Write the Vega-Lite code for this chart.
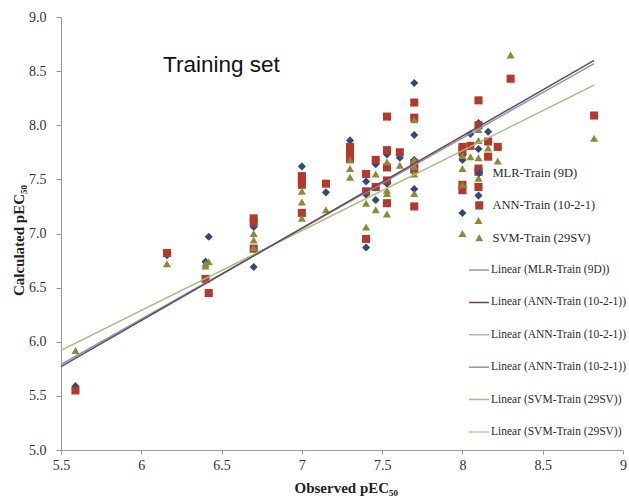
{
  "$schema": "https://vega.github.io/schema/vega-lite/v6.json",
  "width": 562,
  "height": 433,
  "autosize": {"type": "none"},
  "padding": {"left": 61, "top": 17, "right": 6, "bottom": 50},
  "background": "white",
  "config": {
    "view": {"stroke": null},
    "axis": {"labelFont": "Liberation Serif", "labelFontSize": 14, "labelColor": "#333", "titleFont": "Liberation Serif", "titleFontSize": 15, "titleFontWeight": "bold", "titleColor": "#222", "domainColor": "#999", "tickColor": "#999", "grid": false},
    "legend": {"labelFont": "Liberation Serif", "labelColor": "#2a2a2a", "labelLimit": 400}
  },
  "title": {"text": "Training set", "anchor": "start", "frame": "group", "dx": 102, "dy": 70, "font": "Liberation Sans", "fontSize": 22.5, "fontWeight": "normal", "color": "#111"},
  "datasets": {
    "points": [
      {"series": "MLR-Train (9D)", "observed": 5.59, "calculated": 5.59},
      {"series": "MLR-Train (9D)", "observed": 6.16, "calculated": 6.80},
      {"series": "MLR-Train (9D)", "observed": 6.40, "calculated": 6.74},
      {"series": "MLR-Train (9D)", "observed": 6.42, "calculated": 6.97},
      {"series": "MLR-Train (9D)", "observed": 6.70, "calculated": 6.69},
      {"series": "MLR-Train (9D)", "observed": 6.70, "calculated": 7.06},
      {"series": "MLR-Train (9D)", "observed": 7.00, "calculated": 7.62},
      {"series": "MLR-Train (9D)", "observed": 7.15, "calculated": 7.38},
      {"series": "MLR-Train (9D)", "observed": 7.30, "calculated": 7.86},
      {"series": "MLR-Train (9D)", "observed": 7.30, "calculated": 7.74},
      {"series": "MLR-Train (9D)", "observed": 7.40, "calculated": 7.48},
      {"series": "MLR-Train (9D)", "observed": 7.40, "calculated": 7.36},
      {"series": "MLR-Train (9D)", "observed": 7.40, "calculated": 6.87},
      {"series": "MLR-Train (9D)", "observed": 7.46, "calculated": 7.64},
      {"series": "MLR-Train (9D)", "observed": 7.46, "calculated": 7.31},
      {"series": "MLR-Train (9D)", "observed": 7.53, "calculated": 7.73},
      {"series": "MLR-Train (9D)", "observed": 7.53, "calculated": 7.46},
      {"series": "MLR-Train (9D)", "observed": 7.61, "calculated": 7.70},
      {"series": "MLR-Train (9D)", "observed": 7.70, "calculated": 8.39},
      {"series": "MLR-Train (9D)", "observed": 7.70, "calculated": 7.91},
      {"series": "MLR-Train (9D)", "observed": 7.70, "calculated": 7.68},
      {"series": "MLR-Train (9D)", "observed": 7.70, "calculated": 7.41},
      {"series": "MLR-Train (9D)", "observed": 8.00, "calculated": 7.72},
      {"series": "MLR-Train (9D)", "observed": 8.00, "calculated": 7.68},
      {"series": "MLR-Train (9D)", "observed": 8.00, "calculated": 7.19},
      {"series": "MLR-Train (9D)", "observed": 8.05, "calculated": 7.92},
      {"series": "MLR-Train (9D)", "observed": 8.10, "calculated": 8.02},
      {"series": "MLR-Train (9D)", "observed": 8.10, "calculated": 7.78},
      {"series": "MLR-Train (9D)", "observed": 8.10, "calculated": 7.35},
      {"series": "MLR-Train (9D)", "observed": 8.16, "calculated": 7.94},
      {"series": "MLR-Train (9D)", "observed": 8.22, "calculated": 7.80},
      {"series": "ANN-Train (10-2-1)", "observed": 5.59, "calculated": 5.55},
      {"series": "ANN-Train (10-2-1)", "observed": 6.16, "calculated": 6.82},
      {"series": "ANN-Train (10-2-1)", "observed": 6.40, "calculated": 6.58},
      {"series": "ANN-Train (10-2-1)", "observed": 6.42, "calculated": 6.45},
      {"series": "ANN-Train (10-2-1)", "observed": 6.70, "calculated": 7.14},
      {"series": "ANN-Train (10-2-1)", "observed": 6.70, "calculated": 7.10},
      {"series": "ANN-Train (10-2-1)", "observed": 6.70, "calculated": 6.86},
      {"series": "ANN-Train (10-2-1)", "observed": 7.00, "calculated": 7.53},
      {"series": "ANN-Train (10-2-1)", "observed": 7.00, "calculated": 7.49},
      {"series": "ANN-Train (10-2-1)", "observed": 7.00, "calculated": 7.45},
      {"series": "ANN-Train (10-2-1)", "observed": 7.00, "calculated": 7.19},
      {"series": "ANN-Train (10-2-1)", "observed": 7.15, "calculated": 7.46},
      {"series": "ANN-Train (10-2-1)", "observed": 7.30, "calculated": 7.80},
      {"series": "ANN-Train (10-2-1)", "observed": 7.30, "calculated": 7.75},
      {"series": "ANN-Train (10-2-1)", "observed": 7.30, "calculated": 7.69},
      {"series": "ANN-Train (10-2-1)", "observed": 7.40, "calculated": 7.55},
      {"series": "ANN-Train (10-2-1)", "observed": 7.40, "calculated": 7.39},
      {"series": "ANN-Train (10-2-1)", "observed": 7.40, "calculated": 6.95},
      {"series": "ANN-Train (10-2-1)", "observed": 7.46, "calculated": 7.68},
      {"series": "ANN-Train (10-2-1)", "observed": 7.46, "calculated": 7.43},
      {"series": "ANN-Train (10-2-1)", "observed": 7.53, "calculated": 8.08},
      {"series": "ANN-Train (10-2-1)", "observed": 7.53, "calculated": 7.77},
      {"series": "ANN-Train (10-2-1)", "observed": 7.53, "calculated": 7.61},
      {"series": "ANN-Train (10-2-1)", "observed": 7.53, "calculated": 7.49},
      {"series": "ANN-Train (10-2-1)", "observed": 7.53, "calculated": 7.28},
      {"series": "ANN-Train (10-2-1)", "observed": 7.61, "calculated": 7.75},
      {"series": "ANN-Train (10-2-1)", "observed": 7.70, "calculated": 8.21},
      {"series": "ANN-Train (10-2-1)", "observed": 7.70, "calculated": 8.07},
      {"series": "ANN-Train (10-2-1)", "observed": 7.70, "calculated": 7.65},
      {"series": "ANN-Train (10-2-1)", "observed": 7.70, "calculated": 7.59},
      {"series": "ANN-Train (10-2-1)", "observed": 7.70, "calculated": 7.25},
      {"series": "ANN-Train (10-2-1)", "observed": 8.00, "calculated": 7.80},
      {"series": "ANN-Train (10-2-1)", "observed": 8.00, "calculated": 7.76},
      {"series": "ANN-Train (10-2-1)", "observed": 8.00, "calculated": 7.45},
      {"series": "ANN-Train (10-2-1)", "observed": 8.00, "calculated": 7.40},
      {"series": "ANN-Train (10-2-1)", "observed": 8.05, "calculated": 7.81},
      {"series": "ANN-Train (10-2-1)", "observed": 8.10, "calculated": 8.23},
      {"series": "ANN-Train (10-2-1)", "observed": 8.10, "calculated": 8.00},
      {"series": "ANN-Train (10-2-1)", "observed": 8.10, "calculated": 7.60},
      {"series": "ANN-Train (10-2-1)", "observed": 8.10, "calculated": 7.57},
      {"series": "ANN-Train (10-2-1)", "observed": 8.10, "calculated": 7.43},
      {"series": "ANN-Train (10-2-1)", "observed": 8.16, "calculated": 7.85},
      {"series": "ANN-Train (10-2-1)", "observed": 8.16, "calculated": 7.71},
      {"series": "ANN-Train (10-2-1)", "observed": 8.22, "calculated": 7.80},
      {"series": "ANN-Train (10-2-1)", "observed": 8.30, "calculated": 8.43},
      {"series": "ANN-Train (10-2-1)", "observed": 8.82, "calculated": 8.09},
      {"series": "SVM-Train (29SV)", "observed": 5.59, "calculated": 5.92},
      {"series": "SVM-Train (29SV)", "observed": 6.16, "calculated": 6.72},
      {"series": "SVM-Train (29SV)", "observed": 6.40, "calculated": 6.72},
      {"series": "SVM-Train (29SV)", "observed": 6.40, "calculated": 6.70},
      {"series": "SVM-Train (29SV)", "observed": 6.42, "calculated": 6.74},
      {"series": "SVM-Train (29SV)", "observed": 6.70, "calculated": 7.00},
      {"series": "SVM-Train (29SV)", "observed": 6.70, "calculated": 6.94},
      {"series": "SVM-Train (29SV)", "observed": 6.70, "calculated": 6.87},
      {"series": "SVM-Train (29SV)", "observed": 7.00, "calculated": 7.39},
      {"series": "SVM-Train (29SV)", "observed": 7.00, "calculated": 7.29},
      {"series": "SVM-Train (29SV)", "observed": 7.00, "calculated": 7.14},
      {"series": "SVM-Train (29SV)", "observed": 7.15, "calculated": 7.22},
      {"series": "SVM-Train (29SV)", "observed": 7.30, "calculated": 7.68},
      {"series": "SVM-Train (29SV)", "observed": 7.30, "calculated": 7.60},
      {"series": "SVM-Train (29SV)", "observed": 7.30, "calculated": 7.52},
      {"series": "SVM-Train (29SV)", "observed": 7.40, "calculated": 7.28},
      {"series": "SVM-Train (29SV)", "observed": 7.40, "calculated": 7.06},
      {"series": "SVM-Train (29SV)", "observed": 7.46, "calculated": 7.55},
      {"series": "SVM-Train (29SV)", "observed": 7.46, "calculated": 7.22},
      {"series": "SVM-Train (29SV)", "observed": 7.53, "calculated": 7.66},
      {"series": "SVM-Train (29SV)", "observed": 7.53, "calculated": 7.40},
      {"series": "SVM-Train (29SV)", "observed": 7.53, "calculated": 7.37},
      {"series": "SVM-Train (29SV)", "observed": 7.53, "calculated": 7.18},
      {"series": "SVM-Train (29SV)", "observed": 7.61, "calculated": 7.63},
      {"series": "SVM-Train (29SV)", "observed": 7.70, "calculated": 8.05},
      {"series": "SVM-Train (29SV)", "observed": 7.70, "calculated": 7.68},
      {"series": "SVM-Train (29SV)", "observed": 7.70, "calculated": 7.62},
      {"series": "SVM-Train (29SV)", "observed": 7.70, "calculated": 7.55},
      {"series": "SVM-Train (29SV)", "observed": 7.70, "calculated": 7.37},
      {"series": "SVM-Train (29SV)", "observed": 8.00, "calculated": 7.72},
      {"series": "SVM-Train (29SV)", "observed": 8.00, "calculated": 7.60},
      {"series": "SVM-Train (29SV)", "observed": 8.00, "calculated": 7.45},
      {"series": "SVM-Train (29SV)", "observed": 8.00, "calculated": 7.00},
      {"series": "SVM-Train (29SV)", "observed": 8.05, "calculated": 7.71},
      {"series": "SVM-Train (29SV)", "observed": 8.10, "calculated": 7.96},
      {"series": "SVM-Train (29SV)", "observed": 8.10, "calculated": 7.86},
      {"series": "SVM-Train (29SV)", "observed": 8.10, "calculated": 7.70},
      {"series": "SVM-Train (29SV)", "observed": 8.10, "calculated": 7.51},
      {"series": "SVM-Train (29SV)", "observed": 8.10, "calculated": 7.12},
      {"series": "SVM-Train (29SV)", "observed": 8.16, "calculated": 7.79},
      {"series": "SVM-Train (29SV)", "observed": 8.22, "calculated": 7.67},
      {"series": "SVM-Train (29SV)", "observed": 8.30, "calculated": 8.65},
      {"series": "SVM-Train (29SV)", "observed": 8.82, "calculated": 7.88}
    ],
    "trends": [
      {"trend": "Linear (MLR-Train (9D))", "observed": 5.5, "calculated": 5.79},
      {"trend": "Linear (MLR-Train (9D))", "observed": 8.82, "calculated": 8.57},
      {"trend": "Linear (SVM-Train (29SV))", "observed": 5.5, "calculated": 5.92},
      {"trend": "Linear (SVM-Train (29SV))", "observed": 8.82, "calculated": 8.37},
      {"trend": "Linear (ANN-Train (10-2-1))", "observed": 5.5, "calculated": 5.77},
      {"trend": "Linear (ANN-Train (10-2-1))", "observed": 8.82, "calculated": 8.60}
    ]
  },
  "encoding": {
    "x": {"field": "observed", "type": "quantitative",
      "scale": {"domain": [5.5, 9], "nice": false, "zero": false},
      "axis": {"values": [5.5, 6, 6.5, 7, 7.5, 8, 8.5, 9], "format": "~f",
        "title": "Observed  pEC₅₀",
        "titleX": 233, "titleY": 42, "titleAlign": "left", "titleBaseline": "alphabetic",
        "labelPadding": 4, "tickSize": 4, "labelFlush": false}},
    "y": {"field": "calculated", "type": "quantitative",
      "scale": {"domain": [5, 9], "nice": false, "zero": false},
      "axis": {"values": [5, 5.5, 6, 6.5, 7, 7.5, 8, 8.5, 9], "format": ".1f",
        "title": "Calculated  pEC₅₀",
        "titleX": -38, "titleY": 223, "titleAngle": -90, "titleAlign": "center", "titleBaseline": "alphabetic",
        "labelPadding": 10, "tickSize": 5, "labelFlush": false}}
  },
  "layer": [
    {
      "data": {"name": "points"},
      "mark": {"type": "point", "filled": true, "size": 65, "opacity": 1},
      "encoding": {
        "fill": {"field": "series", "type": "nominal",
          "scale": {"domain": ["MLR-Train (9D)", "ANN-Train (10-2-1)", "SVM-Train (29SV)"], "range": ["#2e4a7d", "#b3392d", "#8a8a38"]},
          "legend": {"orient": "none", "legendX": 412, "legendY": 146, "title": null, "padding": 0,
            "labelFontSize": 12.5, "labelOffset": 7,
            "symbolSize": 65, "clipHeight": 20, "rowPadding": 12.4, "symbolOpacity": 1}},
        "shape": {"field": "series", "type": "nominal",
          "scale": {"domain": ["MLR-Train (9D)", "ANN-Train (10-2-1)", "SVM-Train (29SV)"], "range": ["diamond", "square", "triangle-up"]}}
      }
    },
    {
      "data": {"name": "trends"},
      "mark": {"type": "line", "strokeWidth": 1.5},
      "encoding": {
        "stroke": {"field": "trend", "type": "nominal",
          "scale": {"domain": ["Linear (MLR-Train (9D))", "Linear (ANN-Train (10-2-1))", "Linear (ANN-Train (10-2-1))#2", "Linear (ANN-Train (10-2-1))#3", "Linear (SVM-Train (29SV))", "Linear (SVM-Train (29SV))#2"],
            "range": ["#8a98b8", "#6a4858", "#b5b5be", "#b98a88", "#a9bb78", "#c8c8a0"]},
          "legend": {"orient": "none", "legendX": 407, "legendY": 243, "title": null, "padding": 0,
            "labelExpr": "split(datum.value, '#')[0]",
            "labelFontSize": 11.5, "labelOffset": 1,
            "symbolType": "stroke", "symbolSize": 400, "symbolStrokeWidth": 1.5, "clipHeight": 20, "rowPadding": 12.4}}
      }
    }
  ]
}
